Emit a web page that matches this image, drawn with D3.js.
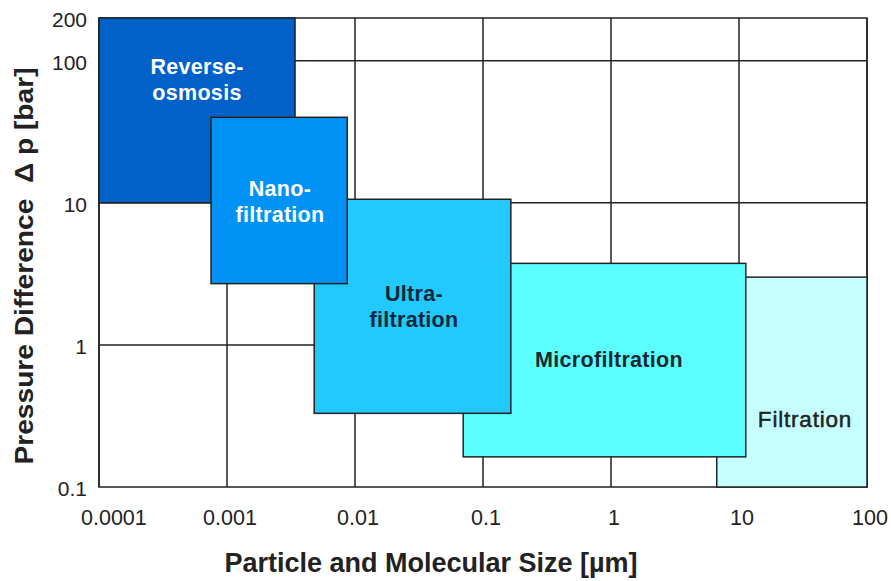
<!DOCTYPE html>
<html><head><meta charset="utf-8">
<script src="https://cdn.jsdelivr.net/npm/d3@7"></script>
<style>body{margin:0;background:#fff}svg{display:block;font-family:"Liberation Sans",Arial,sans-serif}</style>
</head><body><svg id="c" width="891" height="581"></svg>
<script>
const xTicks = [0.0001, 0.001, 0.01, 0.1, 1, 10, 100];
const xTickLabels = ["0.0001", "0.001", "0.01", "0.1", "1", "10", "100"];
const yTicks = [0.1, 1, 10, 100, 200];
const yTickLabels = ["0.1", "1", "10", "100", "200"];
const yGrid = [1, 10, 100];
// processes in drawing order
const names = ["Filtration", "Microfiltration", "Ultra-filtration", "Reverse-osmosis", "Nano-filtration"];
const labelLines = [["Filtration"], ["Microfiltration"], ["Ultra-", "filtration"], ["Reverse-", "osmosis"], ["Nano-", "filtration"]];
const sizeMin = [6.7, 0.07, 0.0048, 0.0001, 0.00075];
const sizeMax = [100, 11.3, 0.165, 0.0034, 0.0087];
const pMin = [0.1, 0.163, 0.33, 10, 2.7];
const pMax = [3.0, 3.75, 10.6, 200, 40];
const colors = ["#c6ffff", "#5cffff", "#22c9ff", "#0062c9", "#0092f4"];
const textColors = ["#222", "#1c2a30", "#10283a", "#fff", "#fff"];
const boldText = [false, true, true, true, true];

const svg = d3.select("#c");
const x = d3.scaleLog().domain([0.0001, 100]).range([99, 867]);
const y = d3.scaleLog().domain([0.1, 200]).range([487, 18]);
const lineCol = "#222";

// grid
svg.append("g").selectAll("line").data(xTicks).join("line")
  .attr("x1", d => x(d)).attr("x2", d => x(d)).attr("y1", y(200)).attr("y2", y(0.1))
  .attr("stroke", lineCol).attr("stroke-width", 1.5);
svg.append("g").selectAll("line").data(yGrid).join("line")
  .attr("x1", x(0.0001)).attr("x2", x(100)).attr("y1", d => y(d)).attr("y2", d => y(d))
  .attr("stroke", lineCol).attr("stroke-width", 1.5);
svg.append("rect").attr("x", x(0.0001)).attr("y", y(200))
  .attr("width", x(100) - x(0.0001)).attr("height", y(0.1) - y(200))
  .attr("fill", "none").attr("stroke", lineCol).attr("stroke-width", 1.5);

// boxes
const idx = d3.range(names.length);
svg.append("g").selectAll("rect").data(idx).join("rect")
  .attr("x", i => x(sizeMin[i])).attr("y", i => y(pMax[i]))
  .attr("width", i => x(sizeMax[i]) - x(sizeMin[i]))
  .attr("height", i => y(pMin[i]) - y(pMax[i]))
  .attr("fill", i => colors[i]).attr("stroke", lineCol).attr("stroke-width", 1.5);

// labels
const labelPos = [[805, 421], [609, 361], [414, 295], [197, 68], [280, 190]];
idx.forEach(i => {
  const t = svg.append("text").attr("x", labelPos[i][0]).attr("y", labelPos[i][1])
    .attr("text-anchor", "middle").attr("dominant-baseline", "middle")
    .attr("fill", textColors[i]).attr("font-size", boldText[i] ? 21.5 : 22.5)
    .attr("font-weight", boldText[i] ? "bold" : "normal")
    .attr("letter-spacing", boldText[i] ? 0.3 : 0.8);
  if (!boldText[i]) t.attr("stroke", textColors[i]).attr("stroke-width", 0.5);
  labelLines[i].forEach((l, k) => t.append("tspan").attr("x", labelPos[i][0]).attr("dy", k === 0 ? 0 : 26).text(l));
});

// axis ticks (x labels kept clear of the y labels on the left)
svg.append("g").selectAll("text").data(xTicks).join("text")
  .attr("y", 525).attr("text-anchor", "middle")
  .attr("font-size", 21.5).attr("fill", "#222").text((d, i) => xTickLabels[i])
  .each(function(d) {
    const w = this.getComputedTextLength();
    const cx = Math.max(x(d) + 3, 81 + w / 2);
    d3.select(this).attr("x", cx);
  });
svg.append("g").selectAll("text").data(yTicks).join("text")
  .attr("x", 87).attr("y", d => y(d) + 9).attr("text-anchor", "end")
  .attr("font-size", 21).attr("fill", "#222").text((d, i) => yTickLabels[i]);

svg.append("text").attr("x", 431).attr("y", 572).attr("text-anchor", "middle")
  .attr("font-size", 27).attr("font-weight", "bold").attr("fill", "#222")
  .text("Particle and Molecular Size [µm]");
svg.append("text").attr("transform", "translate(33,266) rotate(-90)").attr("text-anchor", "middle")
  .attr("font-size", 26).attr("font-weight", "bold").attr("fill", "#222")
  .attr("textLength", 397).attr("lengthAdjust", "spacingAndGlyphs")
  .attr("xml:space", "preserve").style("white-space", "pre")
  .text("Pressure Difference  Δ p [bar]");
</script></body></html>
